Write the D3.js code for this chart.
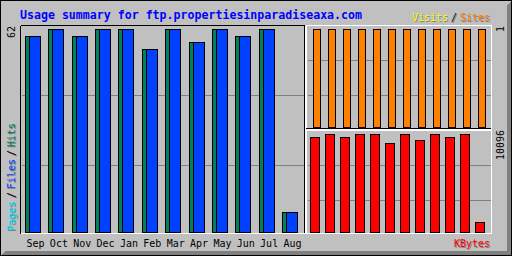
<!DOCTYPE html>
<html>
<head>
<meta charset="utf-8">
<script src="https://cdnjs.cloudflare.com/ajax/libs/d3/7.8.5/d3.min.js"></script>
<style>
body { margin:0; background:#C0C0C0; }
svg { display:block; }
text { font-family:"DejaVu Sans Mono", monospace; }
</style>
</head>
<body>
<script>
//---------------------------------- data
var titulo = "Usage summary for ftp.propertiesinparadiseaxa.com";
var meses = ["Sep","Oct","Nov","Dec","Jan","Feb","Mar","Apr","May","Jun","Jul","Aug"];
var hits   = [60,62,60,62,62,56,62,58,62,60,62,6];
var files  = [60,62,60,62,62,56,62,58,62,60,62,6];
var pages  = [0,0,0,0,0,0,0,0,0,0,0,0];
var visits = [0,0,0,0,0,0,0,0,0,0,0,0];
var sites  = [1,1,1,1,1,1,1,1,1,1,1,1];
var kbytes = [9790,10096,9790,10096,10096,9170,10096,9480,10096,9790,10096,1030];
var maxHits = "62", maxSites = "1", maxKb = "10096";
//----------------------------------
var colores = {
	fondo:"#C0C0C0", gris:"#808080", hits:"#00805C", files:"#0040FF", pages:"#00E0FF",
	visits:"#FFFF00", sites:"#FF8000", kbytes:"#FF0000", titulo:"#0000FF"
};

var svg = d3.select("body").append("svg")
	.attr("width",512).attr("height",256)
	.attr("shape-rendering","crispEdges");

svg.append("rect").attr("width",512).attr("height",256).attr("fill",colores.fondo);

function linea(x1,y1,x2,y2,c)
{
	svg.append("line")
		.attr("x1",x1+0.5).attr("y1",y1+0.5)
		.attr("x2",x2+0.5).attr("y2",y2+0.5)
		.attr("stroke",c).attr("stroke-width",1);
}

//---------------------------------- borde exterior
for (var i=1;i<5;i++)
{
	linea(i,255-i,511-i,255-i,colores.gris);
	linea(511-i,i,511-i,255-i,colores.gris);
}
svg.append("rect").attr("x",0.5).attr("y",0.5).attr("width",511).attr("height",255)
	.attr("fill","none").attr("stroke","#000");

//---------------------------------- lineas de fondo
[95,165].forEach(function (y){ linea(21,y,303,y,colores.gris); });
[60,95,165,200].forEach(function (y){ linea(307,y,490,y,colores.gris); });

//---------------------------------- marco de los paneles
linea(20,25,304,25,"#000");
linea(20,25,20,233,"#000");
linea(304,25,304,233,"#000");
linea(305,25,305,233,"#fff");
linea(306,25,306,233,"#fff");
linea(305,25,491,25,"#fff");
linea(305,128,491,128,"#000");
linea(305,129,491,129,"#fff");
linea(305,130,491,130,"#fff");
linea(20,233,491,233,"#fff");
linea(491,25,491,233,"#fff");

//---------------------------------- escalas
var x = d3.scaleBand().domain(meses).range([25, 25+12*23.36]);
var y = d3.scaleLinear().domain([0,62]).range([232,29]);
var xs = d3.scaleBand().domain(meses).range([313, 313+12*15]);
var ys = d3.scaleLinear().domain([0,1]).range([127,29]);
var xk = d3.scaleBand().domain(meses).range([310, 310+12*15]);
var yk = d3.scaleLinear().domain([0,10096]).range([232,134]);

function barras(datos,xsc,ysc,dx,ancho,base,color)
{
	svg.append("g").selectAll("rect")
		.data(datos.map(function (v,i){ return {m:meses[i], v:v}; })
			.filter(function (d){ return d.v > 0; }))
		.enter()
		.append("rect")
		.attr("x",function (d){ return Math.round(xsc(d.m))+dx+0.5; })
		.attr("y",function (d){ return Math.round(ysc(d.v))+0.5; })
		.attr("width",ancho)
		.attr("height",function (d){ return base - Math.round(ysc(d.v)); })
		.attr("fill",color)
		.attr("stroke","#000");
}

barras(hits,x,y,0,13,232,colores.hits);
barras(files,x,y,4,11,232,colores.files);
barras(pages,x,y,8,11,232,colores.pages);
barras(sites,xs,ys,0,7,127,colores.sites);
barras(visits,xs,ys,4,7,127,colores.visits);
barras(kbytes,xk,yk,0,9,232,colores.kbytes);

//---------------------------------- textos
svg.append("text").attr("x",20).attr("y",19)
	.style("font-size","11.6px").style("font-weight","bold")
	.attr("fill",colores.titulo).text(titulo);

svg.append("g").selectAll("text")
	.data(meses).enter().append("text")
	.attr("x",function (d){ return x(d)+1.5; })
	.attr("y",246.5)
	.style("font-size","10px")
	.attr("fill","#000")
	.text(function (d){ return d; });

function texto(t,px,py,color,sombra,rot)
{
	var tr = function (dx,dy){
		return "translate("+(px+dx)+","+(py+dy)+")"+(rot ? " rotate(-90)" : "");
	};
	if (sombra)
		svg.append("text").attr("transform",tr(1,1)).style("font-size","10px")
			.attr("fill",colores.gris).text(t);
	svg.append("text").attr("transform",tr(0,0)).style("font-size","10px")
		.attr("fill",color).text(t);
}

texto(maxHits,15,26+maxHits.length*6,"#000",false,true);
texto(maxSites,504,26+maxSites.length*6,"#000",false,true);
texto(maxKb,504,130+maxKb.length*6,"#000",false,true);

texto("Pages",15,231,colores.pages,true,true);
texto("/",15,198,"#000",true,true);
texto("Files",15,189,colores.files,true,true);
texto("/",15,156,"#000",true,true);
texto("Hits",15,147,colores.hits,true,true);

texto("Visits",412,20.5,colores.visits,true,false);
texto("/",451,20.5,"#000",true,false);
texto("Sites",460,20.5,colores.sites,true,false);
texto("KBytes",454,246.5,colores.kbytes,true,false);
</script>
</body>
</html>
